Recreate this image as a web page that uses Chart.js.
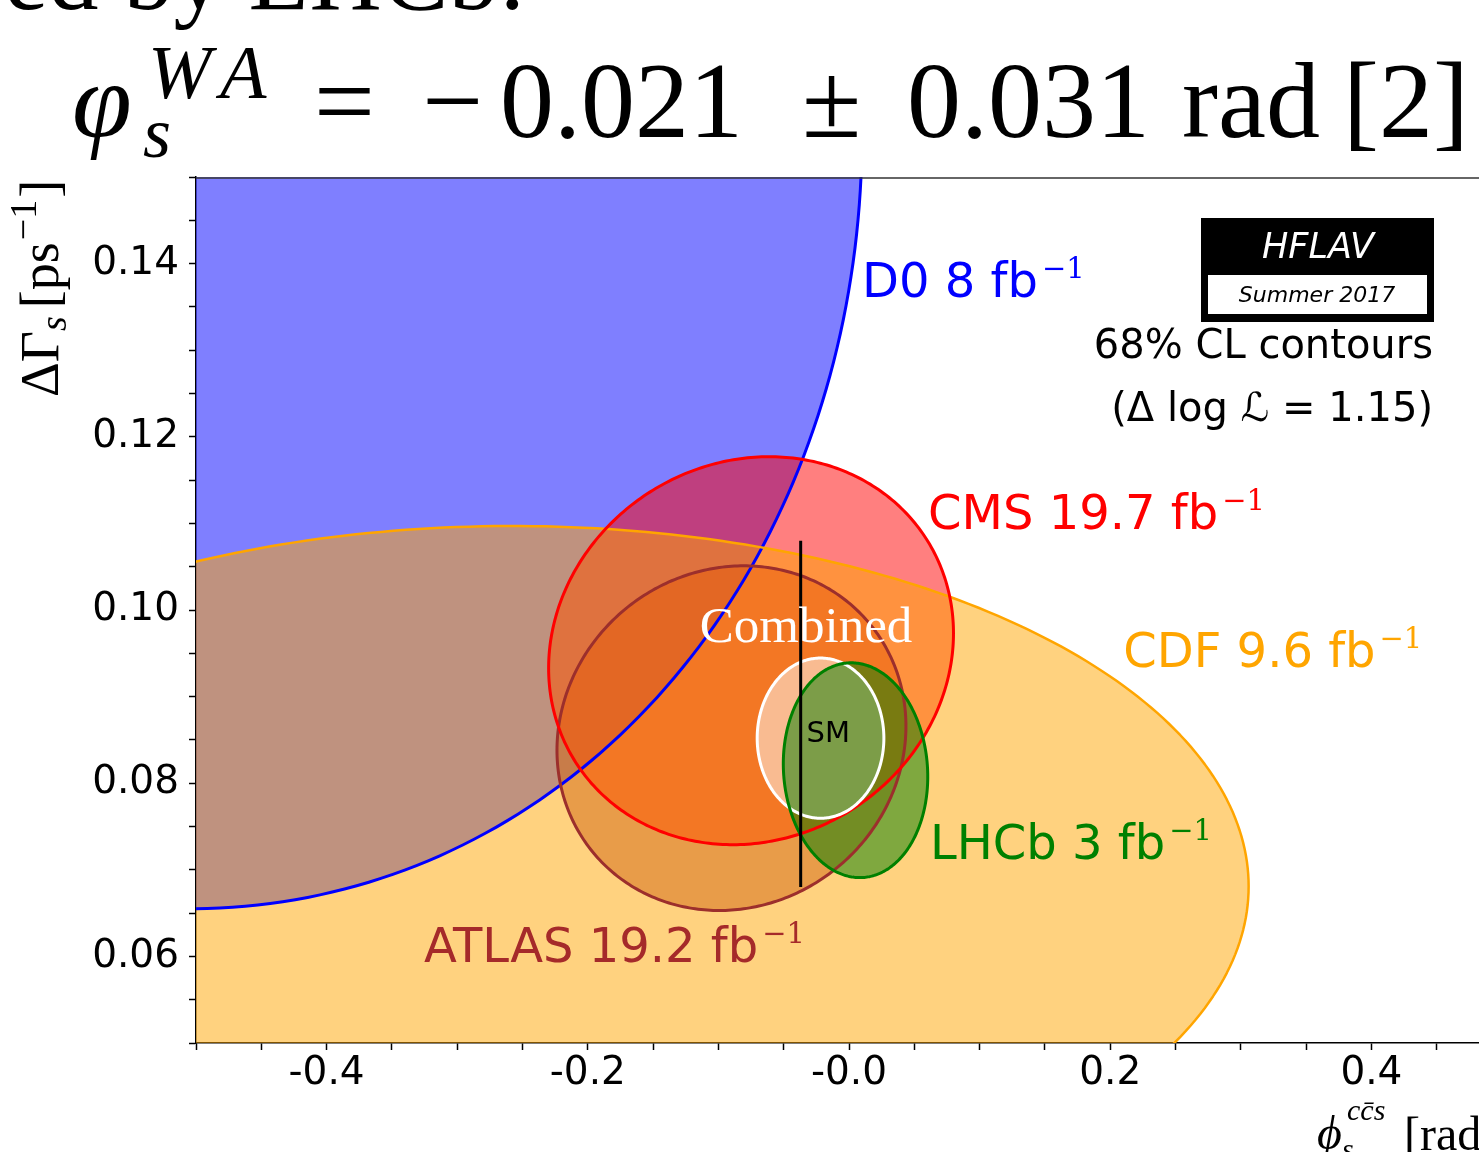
<!DOCTYPE html>
<html>
<head>
<meta charset="utf-8">
<script src="https://cdn.jsdelivr.net/npm/chart.js@4.4.1/dist/chart.umd.min.js"></script>
<style>
  html, body { margin: 0; padding: 0; background: #fff; overflow: hidden; }
  #wrap { width: 1479px; height: 1152px; overflow: hidden; }
  canvas { display: block; }
</style>
</head>
<body>
<div id="wrap"><canvas id="phisChart" width="1516" height="1152"></canvas></div>
<script>
// 68% CL contours: centre, half widths and correlation in (phi_s, DeltaGamma_s)
const experiments = ['D0', 'ATLAS', 'CMS', 'CDF', 'Combined', 'LHCb'];
const phiCentre   = [-0.550, -0.090, -0.075, -0.252, -0.0218, 0.005];
const phiHalf     = [0.560, 0.1336, 0.155, 0.558, 0.0485, 0.0553];
const dgCentre    = [0.163, 0.0852, 0.0953, 0.0685, 0.0852, 0.0815];
const dgHalf      = [0.0975, 0.0199, 0.0224, 0.0412, 0.00925, 0.0124];
const correlation = [-0.08, 0.07, 0.09, -0.01, 0.0, -0.06];
const luminosity  = ['8', '19.2', '19.7', '9.6', '', '3'];

// Standard Model prediction
const smPhi = -0.037;
const smDeltaGamma = [0.068, 0.108];

const phiTickLabels = [-0.4, -0.2, 0.0, 0.2, 0.4];
const dgTickLabels = [0.06, 0.08, 0.10, 0.12, 0.14];

// styles
const fillColour = {
    D0: 'rgba(0, 0, 255, 0.5)', ATLAS: 'rgba(165, 42, 42, 0.5)', CMS: 'rgba(255, 0, 0, 0.5)',
    CDF: 'rgba(255, 165, 0, 0.5)', Combined: 'rgba(255, 255, 255, 0.5)', LHCb: 'rgba(0, 128, 0, 0.5)'
};
const lineColour = {
    D0: '#0000ff', ATLAS: '#9c2f2c', CMS: '#ff0000', CDF: '#ffa500', Combined: '#ffffff', LHCb: '#008000'
};
const lineWidth = { D0: 3, ATLAS: 3, CMS: 3, CDF: 2.5, Combined: 3, LHCb: 3 };
const strokeOrder = ['D0', 'CDF', 'ATLAS', 'CMS', 'Combined', 'LHCb'];
const textColour = { D0: '#0000ff', ATLAS: '#a52a2a', CMS: '#ff0000', CDF: '#ffa500', LHCb: '#008000' };
// label anchors in data coordinates (left, baseline)
const labelAnchor = {
    D0: [0.0100, 0.1362], CMS: [0.0605, 0.1093], CDF: [0.2100, 0.0934],
    LHCb: [0.0620, 0.0713], ATLAS: [-0.3255, 0.0593]
};
const combinedAnchor = [-0.1142, 0.0963];
const smAnchor = [-0.0325, 0.0847];

const serif = '"Liberation Serif", "DejaVu Serif", serif';
const sans = '"DejaVu Sans", sans-serif';
const supFont = '29px "DejaVu Serif", serif';

function near(v, list) {
    return list.some(t => Math.abs(v - t) < 1e-6);
}

function tracePath(ctx, xs, ys, i) {
    const n = 360;
    const r = correlation[i];
    const s = Math.sqrt(1 - r * r);
    ctx.beginPath();
    for (let k = 0; k <= n; k++) {
        const t = 2 * Math.PI * k / n;
        const phi = phiCentre[i] + phiHalf[i] * Math.cos(t);
        const dg = dgCentre[i] + dgHalf[i] * (r * Math.cos(t) + s * Math.sin(t));
        const px = xs.getPixelForValue(phi);
        const py = ys.getPixelForValue(dg);
        if (k === 0) ctx.moveTo(px, py); else ctx.lineTo(px, py);
    }
    ctx.closePath();
}

function drawRun(ctx, x, y, parts) {
    parts.forEach(p => {
        ctx.font = p.font;
        x += p.dx || 0;
        ctx.fillText(p.text, x, y + (p.dy || 0));
        x += ctx.measureText(p.text).width;
    });
}

const contourPlugin = {
    id: 'contours',
    beforeDatasetsDraw(chart) {
        const { ctx, chartArea: a, scales: { x, y } } = chart;
        ctx.save();
        ctx.beginPath();
        ctx.rect(a.left, a.top, a.right - a.left, a.bottom - a.top);
        ctx.clip();
        experiments.forEach((name, i) => {
            tracePath(ctx, x, y, i);
            ctx.fillStyle = fillColour[name];
            ctx.fill();
        });
        ctx.lineJoin = 'round';
        strokeOrder.forEach(name => {
            const i = experiments.indexOf(name);
            tracePath(ctx, x, y, i);
            ctx.strokeStyle = lineColour[name];
            ctx.lineWidth = lineWidth[name];
            ctx.stroke();
        });
        ctx.restore();
    },
    afterDraw(chart) {
        const { ctx, chartArea: a, scales: { x, y } } = chart;
        ctx.save();

        // top spine
        ctx.strokeStyle = '#333';
        ctx.lineWidth = 1.5;
        ctx.beginPath();
        ctx.moveTo(a.left, a.top + 1);
        ctx.lineTo(a.right, a.top + 1);
        ctx.stroke();

        // experiment labels
        ctx.textAlign = 'left';
        ctx.textBaseline = 'alphabetic';
        experiments.forEach((name, i) => {
            if (!labelAnchor[name]) return;
            ctx.fillStyle = textColour[name];
            drawRun(ctx, x.getPixelForValue(labelAnchor[name][0]), y.getPixelForValue(labelAnchor[name][1]), [
                { text: name + ' ' + luminosity[i] + ' fb', font: '48px ' + sans },
                { text: '\u22121', font: supFont, dx: 4, dy: -19 }
            ]);
        });

        ctx.fillStyle = '#ffffff';
        ctx.font = '51px ' + serif;
        ctx.fillText('Combined', x.getPixelForValue(combinedAnchor[0]), y.getPixelForValue(combinedAnchor[1]));

        ctx.fillStyle = '#000';
        ctx.font = '29px ' + sans;
        ctx.fillText('SM', x.getPixelForValue(smAnchor[0]), y.getPixelForValue(smAnchor[1]));

        // HFLAV box
        ctx.fillStyle = '#000';
        ctx.fillRect(1201, 218, 233, 104);
        ctx.fillStyle = '#fff';
        ctx.fillRect(1208, 275, 219, 39);
        ctx.textAlign = 'center';
        ctx.font = 'italic 35px ' + sans;
        ctx.fillText('HFLAV', 1318, 258);
        ctx.fillStyle = '#000';
        ctx.font = 'italic 22px ' + sans;
        ctx.fillText('Summer 2017', 1317, 302);

        ctx.textAlign = 'right';
        ctx.font = '40px ' + sans;
        ctx.fillText('68% CL contours', 1433, 358);
        ctx.fillText('(\u0394 log \u2112 = 1.15)', 1433, 421);

        // y axis title
        ctx.textAlign = 'left';
        ctx.save();
        ctx.translate(58, 397);
        ctx.rotate(-Math.PI / 2);
        drawRun(ctx, 0, 0, [
            { text: '\u0394\u0393', font: '54px ' + serif },
            { text: 's', font: 'italic 38px ' + serif, dy: 8 },
            { text: '[ps', font: '54px ' + serif, dx: 8 },
            { text: '\u22121', font: '38px ' + serif, dx: 2, dy: -22 },
            { text: ']', font: '54px ' + serif, dx: 2 }
        ]);
        ctx.restore();

        // x axis title
        ctx.font = 'italic 48px ' + serif;
        ctx.fillText('\u03D5', 1317, 1149);
        ctx.font = 'italic 30px ' + serif;
        ctx.fillText('s', 1342, 1159);
        ctx.fillText('cc\u0304s', 1347, 1120);
        ctx.font = '48px ' + serif;
        ctx.fillText('[rad]', 1404, 1150);

        // heading above the figure
        ctx.font = '100px ' + serif;
        ctx.fillText('ed by LHCb:', 4, 9);
        ctx.font = 'italic 108px ' + serif;
        ctx.fillText('\u03C6', 72, 137);
        ctx.font = 'italic 72px ' + serif;
        ctx.fillText('s', 143, 157);
        ctx.font = 'italic 76px ' + serif;
        ctx.fillText('W', 148, 98);
        ctx.fillText('A', 220, 98);
        ctx.font = '108px ' + serif;
        [['=', 314], ['\u2212', 422], ['0.021', 500], ['\u00B1', 802], ['0.031', 907], ['rad', 1182], ['[2]', 1343]]
            .forEach(([t, px]) => ctx.fillText(t, px, 137));

        ctx.restore();
    }
};

const ctx = document.getElementById('phisChart').getContext('2d');
new Chart(ctx, {
    type: 'scatter',
    data: {
        datasets: [{
            label: 'SM',
            data: [{ x: smPhi, y: smDeltaGamma[0] }, { x: smPhi, y: smDeltaGamma[1] }],
            showLine: true,
            borderColor: '#000',
            borderWidth: 3,
            pointRadius: 0
        }]
    },
    options: {
        responsive: false,
        animation: false,
        devicePixelRatio: 1,
        layout: { padding: { left: 0, right: 14, top: 177, bottom: 0 } },
        plugins: { legend: { display: false }, tooltip: { enabled: false } },
        scales: {
            x: {
                type: 'linear',
                min: -0.5,
                max: 0.5,
                afterFit(scale) { scale.height = 109; },
                border: { display: true, color: '#000', width: 1.5 },
                grid: { display: true, drawOnChartArea: false, drawTicks: true, tickLength: 7, tickColor: '#000', tickWidth: 1.5 },
                ticks: {
                    stepSize: 0.05,
                    maxTicksLimit: 100,
                    autoSkip: false,
                    maxRotation: 0,
                    minRotation: 0,
                    padding: 0,
                    color: '#000',
                    font: { family: 'DejaVu Sans', size: 39 },
                    callback: v => near(v, phiTickLabels) ? (Math.abs(v) < 1e-6 ? '-0.0' : v.toFixed(1)) : ''
                }
            },
            y: {
                type: 'linear',
                min: 0.05,
                max: 0.15,
                afterFit(scale) { scale.width = 196; },
                border: { display: true, color: '#000', width: 1.5 },
                grid: { display: true, drawOnChartArea: false, drawTicks: true, tickLength: 7, tickColor: '#000', tickWidth: 1.5 },
                ticks: {
                    stepSize: 0.005,
                    maxTicksLimit: 100,
                    autoSkip: false,
                    padding: 10,
                    color: '#000',
                    font: { family: 'DejaVu Sans', size: 39 },
                    callback: v => near(v, dgTickLabels) ? v.toFixed(2) : ''
                }
            }
        }
    },
    plugins: [contourPlugin]
});
</script>
</body>
</html>
